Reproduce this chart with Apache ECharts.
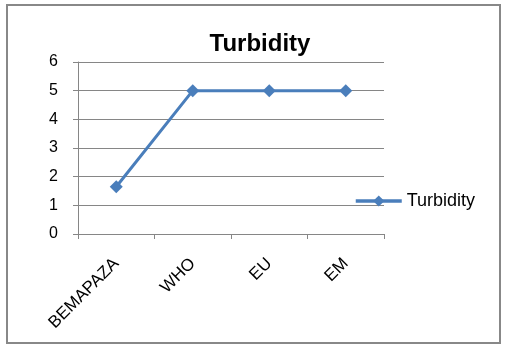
<!DOCTYPE html>
<html><head><meta charset="utf-8">
<script src="https://cdn.jsdelivr.net/npm/echarts@6/dist/echarts.min.js"></script>
<style>html,body{margin:0;padding:0;background:#fff}#c{width:508px;height:349px}</style>
</head><body><div id="c"></div>
<script>
const categories = ['BEMAPAZA', 'WHO', 'EU', 'EM'];
const turbidity = [1.65, 5, 5, 5];
const seriesName = 'Turbidity';
const titleText = 'Turbidity';
const yMin = 0, yMax = 6, yStep = 1;

const chart = echarts.init(document.getElementById('c'), null, {renderer: 'canvas'});
const font = 'Liberation Sans, Arial, sans-serif';
chart.setOption({
  backgroundColor: '#fff',
  animation: false,
  graphic: [{
    type: 'rect', shape: {x: 7, y: 5, width: 493, height: 338},
    style: {fill: 'none', stroke: '#888', lineWidth: 2}, silent: true
  }],
  title: {
    text: titleText, left: 255, top: 27, textAlign: 'center',
    textStyle: {fontFamily: font, fontWeight: 'bold', fontSize: 24, color: '#000'}
  },
  legend: {
    left: 349, top: 187, itemWidth: 46, itemHeight: 14, itemGap: 4,
    lineStyle: {width: 3.5},
    textStyle: {fontFamily: font, fontSize: 18, color: '#000'},
    data: [{name: seriesName}]
  },
  grid: {left: 78, right: 124, top: 62, bottom: 115, containLabel: false},
  xAxis: {
    type: 'category', data: categories, boundaryGap: true,
    axisLine: {lineStyle: {color: '#868686', width: 1}},
    axisTick: {show: true, length: 5, lineStyle: {color: '#868686'}},
    axisLabel: {rotate: 45, margin: 27, fontFamily: font, fontSize: 17, color: '#000'}
  },
  yAxis: {
    type: 'value', min: yMin, max: yMax, interval: yStep,
    axisLine: {show: true, lineStyle: {color: '#868686'}},
    axisTick: {show: true, length: 5, lineStyle: {color: '#868686'}},
    splitLine: {lineStyle: {color: '#868686', width: 1}},
    axisLabel: {margin: 20, fontFamily: font, fontSize: 16, color: '#000'}
  },
  series: [{
    name: seriesName, type: 'line', data: turbidity,
    symbol: 'diamond', symbolSize: 13,
    lineStyle: {color: '#4A7EBB', width: 3},
    itemStyle: {color: '#4A7EBB'}
  }]
});
</script></body></html>
